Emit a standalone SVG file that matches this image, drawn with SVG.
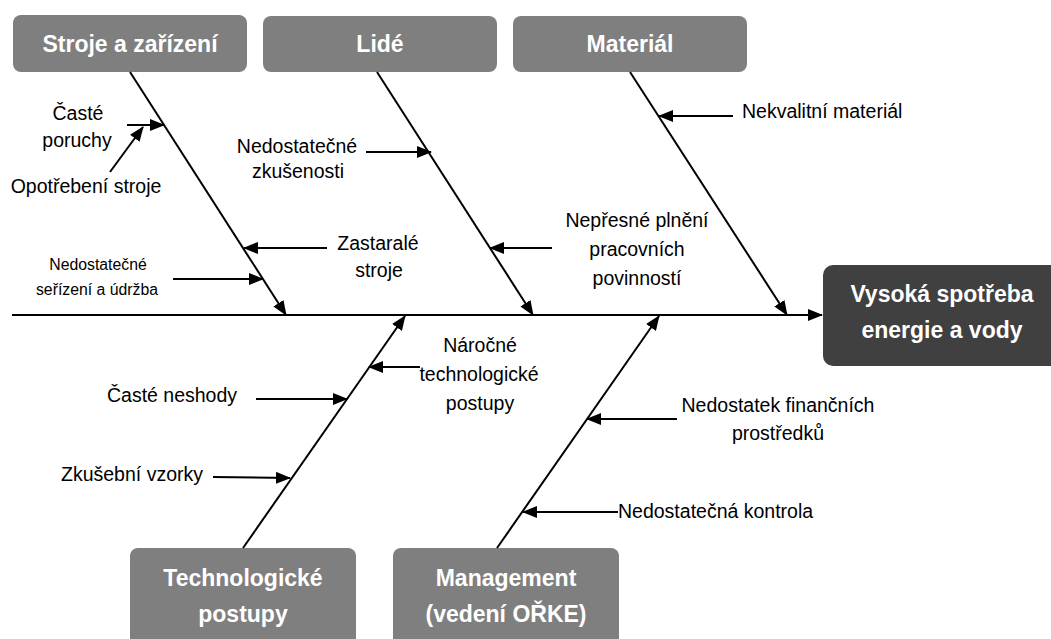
<svg xmlns="http://www.w3.org/2000/svg" width="1051" height="639" viewBox="0 0 1051 639">
  <style>
    .cat { fill: #7f7f7f; }
    .effect { fill: #404040; }
    .cat-label { font-family: "Liberation Sans", Arial, sans-serif; font-weight: bold; font-size: 23px; fill: #ffffff; text-anchor: middle; }
    .lbl { font-family: "Liberation Sans", Arial, sans-serif; font-size: 19.5px; fill: #000000; }
    .sm { font-size: 15.8px; }
    .mid { text-anchor: middle; }
    .ln { stroke: #000000; stroke-width: 2; fill: none; marker-end: url(#arrow); }
  </style>
  <defs>
    <marker id="arrow" markerUnits="userSpaceOnUse" markerWidth="15" markerHeight="12" refX="14" refY="6" orient="auto">
      <path d="M0,0 L15,6 L0,12 z" fill="#000000"/>
    </marker>
  </defs>
  <rect width="1051" height="639" fill="#ffffff"/>

  <!-- category boxes -->
  <g id="cat-machines">
    <rect class="cat" x="13" y="15" width="234" height="57" rx="8"/>
    <text class="cat-label" x="130" y="52">Stroje a zařízení</text>
  </g>
  <g id="cat-people">
    <rect class="cat" x="263" y="16" width="234" height="56" rx="8"/>
    <text class="cat-label" x="380" y="52">Lidé</text>
  </g>
  <g id="cat-material">
    <rect class="cat" x="513" y="16" width="234" height="56" rx="8"/>
    <text class="cat-label" x="630" y="52">Materiál</text>
  </g>
  <g id="cat-technology">
    <rect class="cat" x="130" y="548" width="226" height="100" rx="8"/>
    <text class="cat-label" x="243" y="586">Technologické</text>
    <text class="cat-label" x="243" y="622">postupy</text>
  </g>
  <g id="cat-management">
    <rect class="cat" x="393" y="548" width="226" height="100" rx="8"/>
    <text class="cat-label" x="506" y="586">Management</text>
    <text class="cat-label" x="506" y="622">(vedení OŘKE)</text>
  </g>
  <g id="effect">
    <rect class="effect" x="823" y="265" width="240" height="101" rx="10"/>
    <text class="cat-label" x="942" y="302">Vysoká spotřeba</text>
    <text class="cat-label" x="942" y="338">energie a vody</text>
  </g>

  <!-- spine, bones and cause arrows -->
  <g id="connectors">
    <line class="ln" x1="12" y1="315" x2="822" y2="315"/>
    <line class="ln" x1="130" y1="72" x2="286" y2="315"/>
    <line class="ln" x1="377" y1="72" x2="533" y2="315"/>
    <line class="ln" x1="630" y1="72" x2="787" y2="315"/>
    <line class="ln" x1="243" y1="548" x2="405" y2="316"/>
    <line class="ln" x1="497" y1="548" x2="659" y2="316"/>

    <line class="ln" x1="127" y1="125" x2="164" y2="125"/>
    <line class="ln" x1="110" y1="172" x2="143" y2="127"/>
    <line class="ln" x1="327" y1="248" x2="244" y2="248"/>
    <line class="ln" x1="173" y1="279" x2="263" y2="279"/>
    <line class="ln" x1="366" y1="152" x2="431" y2="152"/>
    <line class="ln" x1="552" y1="248" x2="490" y2="248"/>
    <line class="ln" x1="733" y1="116" x2="659" y2="116"/>
    <line class="ln" x1="420" y1="367" x2="369" y2="367"/>
    <line class="ln" x1="256" y1="399" x2="347" y2="399"/>
    <line class="ln" x1="213" y1="477" x2="290" y2="478"/>
    <line class="ln" x1="677" y1="419" x2="587" y2="419"/>
    <line class="ln" x1="618" y1="512" x2="523" y2="512"/>
  </g>

  <!-- cause labels -->
  <g id="causes">
    <text class="lbl mid" x="78" y="120">Časté</text>
    <text class="lbl mid" x="77" y="147">poruchy</text>
    <text class="lbl mid" x="86" y="193">Opotřebení stroje</text>
    <text class="lbl sm mid" x="98" y="270">Nedostatečné</text>
    <text class="lbl sm mid" x="97" y="295">seřízení a údržba</text>
    <text class="lbl mid" x="378" y="250">Zastaralé</text>
    <text class="lbl mid" x="379" y="277">stroje</text>
    <text class="lbl mid" x="297" y="153">Nedostatečné</text>
    <text class="lbl mid" x="298" y="178">zkušenosti</text>
    <text class="lbl mid" x="637" y="227">Nepřesné plnění</text>
    <text class="lbl mid" x="637" y="256">pracovních</text>
    <text class="lbl mid" x="637" y="285">povinností</text>
    <text class="lbl" x="742" y="118">Nekvalitní materiál</text>
    <text class="lbl mid" x="480" y="352">Náročné</text>
    <text class="lbl mid" x="479" y="381">technologické</text>
    <text class="lbl mid" x="480" y="410">postupy</text>
    <text class="lbl mid" x="172" y="402">Časté neshody</text>
    <text class="lbl mid" x="132" y="481">Zkušební vzorky</text>
    <text class="lbl mid" x="778" y="412">Nedostatek finančních</text>
    <text class="lbl mid" x="778" y="440">prostředků</text>
    <text class="lbl" x="618" y="518">Nedostatečná kontrola</text>
  </g>
</svg>
